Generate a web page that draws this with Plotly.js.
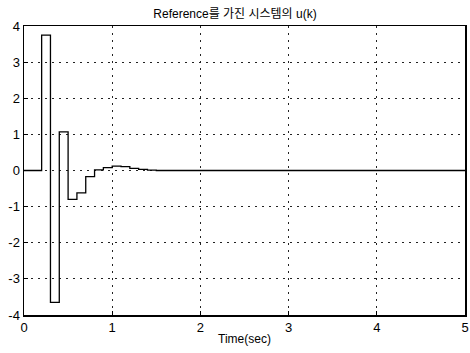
<!DOCTYPE html>
<html>
<head>
<meta charset="utf-8">
<script src="https://cdn.plot.ly/plotly-3.0.1.min.js"></script>
<style>html,body{margin:0;padding:0;background:#fff;}#chart{width:470px;height:353px;}</style>
</head>
<body>
<div id="chart"></div>
<script>
var timeSec = [0, 0.1, 0.2, 0.3, 0.4, 0.5, 0.6, 0.7, 0.8, 0.9, 1.0, 1.1, 1.2, 1.3, 1.4, 1.5, 5.0];
var uk =      [0, 0, 3.75, -3.65, 1.07, -0.8, -0.62, -0.17, 0.02, 0.08, 0.12, 0.11, 0.06, 0.03, 0.01, 0.0, 0.0];
var xTicks = [0, 1, 2, 3, 4, 5];
var yTicks = [-4, -3, -2, -1, 0, 1, 2, 3, 4];
var fontFam = 'Arial, "Liberation Sans", "Noto Sans CJK KR", sans-serif';

var trace = {
  x: timeSec, y: uk, type: 'scatter', mode: 'lines',
  line: {shape: 'hv', color: '#000', width: 1.3},
  hoverinfo: 'none'
};
var axisCommon = {
  showline: true, mirror: true, linecolor: '#000', linewidth: 1.5,
  showgrid: true, gridcolor: '#222', griddash: '2px,5px', gridwidth: 1.2,
  zeroline: false, ticks: 'inside', ticklen: 4, tickcolor: '#000',
  tickfont: {family: fontFam, size: 13, color: '#000'}
};
var layout = {
  width: 470, height: 353,
  margin: {l: 24, r: 5, t: 26, b: 38},
  paper_bgcolor: '#fff', plot_bgcolor: '#fff',
  showlegend: false,
  title: {text: 'Reference를 가진 시스템의 u(k)', font: {family: fontFam, size: 12, color: '#000'}, x: 0.5, xanchor: 'center', y: 0.962, yanchor: 'middle'},
  xaxis: Object.assign({}, axisCommon, {
    range: [0, 5], tickvals: xTicks, ticktext: xTicks.map(String),
    title: {text: 'Time(sec)', font: {family: fontFam, size: 12, color: '#000'}, standoff: 0}
  }),
  yaxis: Object.assign({}, axisCommon, {
    range: [-4, 4], tickvals: yTicks, ticktext: yTicks.map(String)
  })
};
Plotly.newPlot('chart', [trace], layout, {staticPlot: true, displayModeBar: false});
</script>
</body>
</html>
